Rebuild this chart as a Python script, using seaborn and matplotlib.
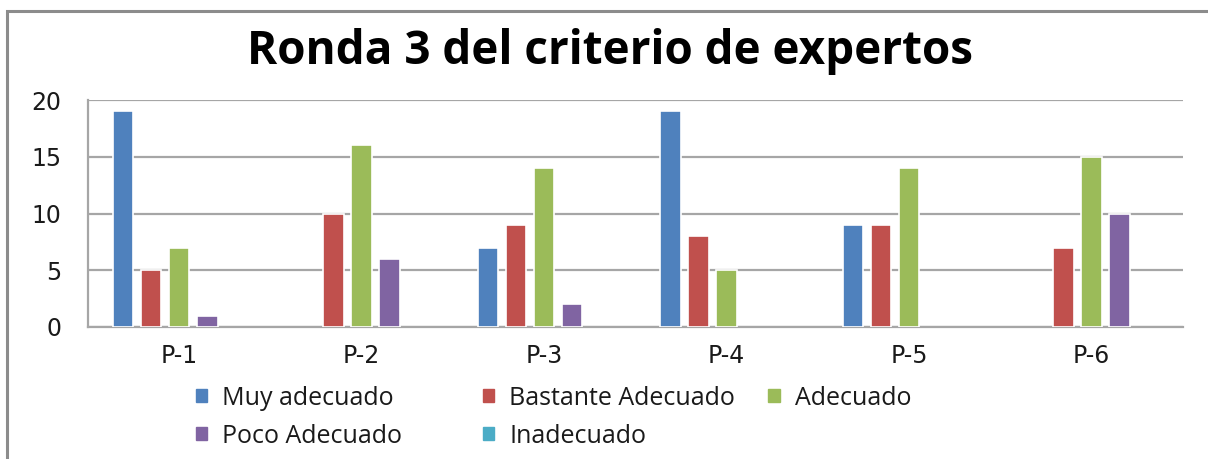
import matplotlib
matplotlib.use("Agg")
import matplotlib.pyplot as plt
from matplotlib.patches import Patch, Rectangle
import seaborn as sns
import pandas as pd

# ---- data ----
preguntas = ["P-1", "P-2", "P-3", "P-4", "P-5", "P-6"]
series = ["Muy adecuado", "Bastante Adecuado", "Adecuado", "Poco Adecuado", "Inadecuado"]
muy_adecuado = [19, 0, 7, 19, 9, 0]
bastante_adecuado = [5, 10, 9, 8, 9, 7]
adecuado = [7, 16, 14, 5, 14, 15]
poco_adecuado = [1, 6, 2, 0, 0, 10]
inadecuado = [0, 0, 0, 0, 0, 0]
colors = ["#4F81BD", "#C0504D", "#9BBB59", "#8064A2", "#4BACC6"]
title = "Ronda 3 del criterio de expertos"
yticks = [0, 5, 10, 15, 20]

values = [muy_adecuado, bastante_adecuado, adecuado, poco_adecuado, inadecuado]
rows = []
for s, vals in zip(series, values):
    for p, v in zip(preguntas, vals):
        rows.append({"Pregunta": p, "Serie": s, "Valor": v})
df = pd.DataFrame(rows)

sns.set_theme(style="white")
plt.rcParams["font.family"] = ["Open Sans", "DejaVu Sans"]

fig = plt.figure(figsize=(12.08, 4.59), dpi=100)
fig.patch.set_facecolor("white")
ax = fig.add_axes([0.0728, 0.2876, 0.9062, 0.4944])

sns.barplot(data=df, x="Pregunta", y="Valor", hue="Serie", order=preguntas,
            hue_order=series, palette=colors, saturation=1, width=0.77, gap=0.27,
            edgecolor="white", linewidth=1.2, legend=False, ax=ax, zorder=3)

# hide zero-height bars (their white edges would cut the baseline)
for p in ax.patches:
    if p.get_height() == 0:
        p.set_visible(False)

ax.set_ylim(0, 20)
ax.set_yticks(yticks)
ax.set_xlim(-0.5, len(preguntas) - 0.5)
ax.yaxis.grid(True, color="#a6a6a6", linewidth=1.6, zorder=0)
ax.set_axisbelow(True)
for side in ["top", "right"]:
    ax.spines[side].set_visible(False)
for side in ["left", "bottom"]:
    ax.spines[side].set_color("#a6a6a6")
    ax.spines[side].set_linewidth(1.6)
ax.set_xlabel("")
ax.set_ylabel("")
ax.tick_params(axis="both", length=0, labelsize=17, colors="#1a1a1a")
ax.tick_params(axis="y", pad=19)
ax.tick_params(axis="x", pad=12)
for lab in ax.get_yticklabels() + ax.get_xticklabels():
    lab.set_family(["DejaVu Sans"])

fig.text(0.505, 0.888, title, ha="center", va="center", fontsize=33,
         fontweight="bold", family=["Open Sans", "DejaVu Sans"], color="black")

# frame
fig.patches.append(Rectangle((0.0062, -0.1), 1.2, 1.077, transform=fig.transFigure,
                             fill=False, edgecolor="#8c8c8c", linewidth=2.2))

handles = [Patch(facecolor=c, edgecolor=c) for c in colors]
cols = [([0, 3], 0.162), ([1, 4], 0.400), ([2], 0.636)]
for idx, xpos in cols:
    fig.legend([handles[i] for i in idx], [series[i] for i in idx],
               loc="upper left", bbox_to_anchor=(xpos, 0.160), frameon=False,
               fontsize=18, handlelength=0.45, handleheight=0.45,
               handletextpad=0.6, labelspacing=0.52, borderaxespad=0,
               borderpad=0, labelcolor="#1a1a1a")

fig.savefig("out.png", dpi=100)
